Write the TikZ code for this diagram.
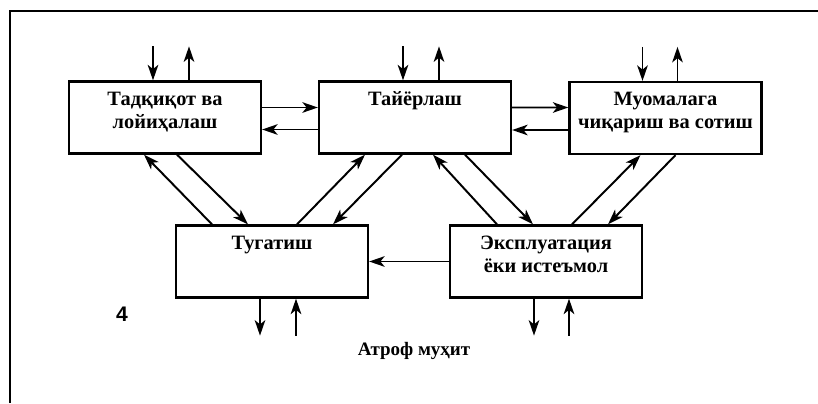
\documentclass[tikz,border=0pt]{standalone}
\usepackage{fontspec}
\setmainfont{Liberation Serif}
\newfontfamily\raqam{Liberation Sans}
\usetikzlibrary{calc,arrows.meta}

\begin{document}
\begin{tikzpicture}[x=0.025cm,y=-0.025cm,
		blok/.style={draw,line width=1.6pt,minimum width=4.8cm,minimum height=1.8cm},
		yoz/.style={anchor=north,align=center,inner sep=0pt,font=\fontsize{14.5}{16.5}\selectfont\bfseries},
		pil/.style={line width=1.4pt,-{Stealth[length=11pt,width=7.5pt,inset=3pt]}}]

	    \useasboundingbox (0,0) rectangle (818,403);
	    \draw[line width=2pt] (10,403) -- (10,11) -- (818,11);

	    % bloklar
	    \node[blok] (tad) at (165,117.5) {};
	    \node[blok] (tay) at (415,117.5) {};
	    \node[blok] (muo) at (665.5,118) {};
	    \node[blok] (tug) at (272,261.5) {};
	    \node[blok] (eks) at (546,261.5) {};

	    \node[yoz] (tadt) at ($(tad.north)+(0,11)$) {Тадқиқот ва\\лойиҳалаш};
	    \node[yoz] (tayt) at ($(tay.north)+(0,11)$) {Тайёрлаш};
	    \node[yoz] (muot) at ($(muo.north)+(0,11)$) {Муомалага\\чиқариш ва сотиш};
	    \node[yoz] (tugt) at ($(tug.north)+(0,11)$) {Тугатиш};
	    \node[yoz] (ekst) at ($(eks.north)+(0,11)$) {Эксплуатация\\ёки истеъмол};

	    \node (raqam) at (122,314) {\raqam\fontsize{15}{18}\selectfont\bfseries 4};
	    \node (atrof) at (414,351) {\fontsize{13.5}{15}\selectfont\bfseries Атроф муҳит};

	    % tashqi oqimlar
	    \foreach \n/\a/\b in {tad/-12/24, tay/-12/24, muo/-23/12} {
	        \draw[pil] ($(\n.north)+(\a,-34)$) -- ($(\n.north)+(\a,0)$);
	        \draw[pil] ($(\n.north)+(\b,0)$) -- ($(\n.north)+(\b,-34)$);
	    }
	    \foreach \n/\a/\b in {tug/-12/24, eks/-12/23} {
	        \draw[pil] ($(\n.south)+(\a,0)$) -- ($(\n.south)+(\a,37)$);
	        \draw[pil] ($(\n.south)+(\b,37)$) -- ($(\n.south)+(\b,0)$);
	    }

	    % bloklar orasidagi oqimlar
	    \draw[pil] ($(tad.east)+(0,-10)$) -- ($(tay.west)+(0,-10)$);
	    \draw[pil] ($(tay.west)+(0,12)$) -- ($(tad.east)+(0,12)$);
	    \draw[pil] ($(tay.east)+(0,-10)$) -- ($(muo.west)+(0,-10.5)$);
	    \draw[pil] ($(muo.west)+(0,12)$) -- ($(tay.east)+(0,12.5)$);
	    \draw[pil] (eks.west) -- (tug.east);

	    \draw[pil] ($(tug.north)+(-60,0)$) -- ($(tad.south)+(-21,0)$);
	    \draw[pil] ($(tad.south)+(12,0)$) -- ($(tug.north)+(-24,0)$);
	    \draw[pil] ($(tug.north)+(25,0)$) -- ($(tay.south)+(-50,0)$);
	    \draw[pil] ($(tay.south)+(-13,0)$) -- ($(tug.north)+(61,0)$);
	    \draw[pil] ($(eks.north)+(-49,0)$) -- ($(tay.south)+(18,0)$);
	    \draw[pil] ($(tay.south)+(50,0)$) -- ($(eks.north)+(-13,0)$);
	    \draw[pil] ($(eks.north)+(26,0)$) -- ($(muo.south)+(-25,0)$);
	    \draw[pil] ($(muo.south)+(10,0)$) -- ($(eks.north)+(62,0)$);

\end{tikzpicture}
\end{document}
